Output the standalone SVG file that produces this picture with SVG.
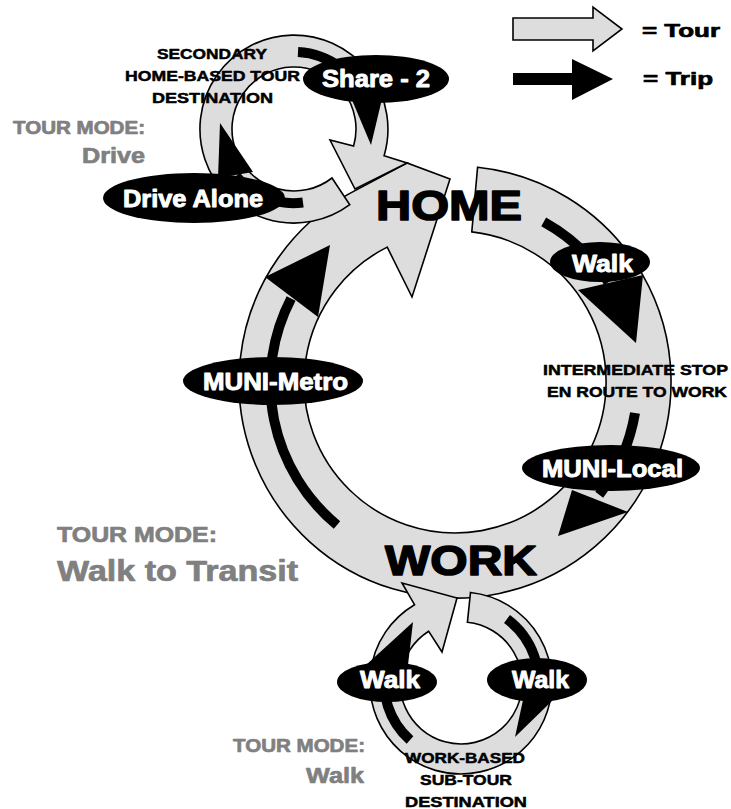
<svg xmlns="http://www.w3.org/2000/svg" width="731" height="809" viewBox="0 0 731 809">
<style>
.tour{fill:#dddddd;stroke:#000;stroke-width:1.6;stroke-linejoin:miter}
.trip{fill:none;stroke:#000;stroke-width:10}
.head{fill:#000}
.oval{fill:#000}
text{font-family:"Liberation Sans",Arial,Helvetica,sans-serif;font-weight:bold;stroke-linejoin:round}
.ol{fill:#fff;stroke:#fff;stroke-width:0.9;font-size:23px}
.sm{fill:#000;stroke:#000;stroke-width:0.5;font-size:15.5px}
.big{fill:#000;stroke:#000;stroke-width:1.6;font-size:43px}
.mode{fill:#808080;stroke:#808080;stroke-width:0.7}
.leg{fill:#000;stroke:#000;stroke-width:0.7;font-size:19px}
</style>
<rect width="731" height="809" fill="#fff"/>

<g id="connectors">
  <g id="tours">
    <path id="tour-main" class="tour" d="M477.6,167.2 A216,216 0 1 1 348,194.4 L407,163 L450,179 L412,297 L387.2,247.1 A151,151 0 1 0 471.8,231.9 Z"/>
    <path id="tour-work-sub" class="tour" d="M470.5,592.5 A91,91 0 1 1 414.5,604.7 L402,583 L457,598 L442,652 L428.7,631.3 A61,61 0 1 0 467.4,622.3 Z"/>
    <path id="tour-home-sec" class="tour" d="M349.8,204.7 A94,94 0 1 1 384.1,155.7 L407,163 L355,189 L330,140 L353.6,146.1 A62,62 0 1 0 332,178 Z"/>
  </g>
  <g id="trips">
    <path class="trip" d="M298,52 A77,77 0 0 1 367.2,105.2"/>
    <polygon class="head" points="352,100 382,99 371,145"/>
    <path class="trip" d="M303,202.5 A74,74 0 0 1 236,176"/>
    <polygon class="head" points="220,123 218,178 253,172"/>
    <path class="trip" d="M543.7,221.9 A183,183 0 0 1 608.5,282.3"/>
    <polygon class="head" points="578,290 643,275 636,343"/>
    <path class="trip" d="M635,413 A183,183 0 0 1 599.2,494.7"/>
    <polygon class="head" points="572,490 628,512 558,536"/>
    <path class="trip" d="M337,525 A184,184 0 0 1 291.1,298.5"/>
    <polygon class="head" points="265,277 330,245 318,317"/>
    <path class="trip" d="M507,619 A78,78 0 0 1 536,701.6"/>
    <polygon class="head" points="523,700 554,699 515,737"/>
    <path class="trip" d="M410,740 A77,77 0 0 1 386,665.7"/>
    <polygon class="head" points="413,622 366,665 408,665"/>
  </g>
</g>

<g id="legend">
  <polygon class="tour" points="513,18 593,18 593,7 622,29 593,51 593,40 513,40"/>
  <text class="leg" x="642" y="37" textLength="78" lengthAdjust="spacingAndGlyphs">= Tour</text>
  <polygon class="head" points="513,73 572,73 572,59 613,79 572,100 572,85 513,85"/>
  <text class="leg" x="643" y="85" textLength="70" lengthAdjust="spacingAndGlyphs">= Trip</text>
</g>

<g id="node-share2">
  <ellipse class="oval" cx="376" cy="79" rx="73" ry="24"/>
  <text class="ol" x="322" y="87" textLength="108" lengthAdjust="spacingAndGlyphs">Share - 2</text>
</g>
<g id="node-drive-alone">
  <ellipse class="oval" cx="194" cy="198" rx="91" ry="25"/>
  <text class="ol" x="123" y="207" font-size="22" textLength="140" lengthAdjust="spacingAndGlyphs">Drive Alone</text>
</g>
<g id="node-walk-1">
  <ellipse class="oval" cx="600" cy="262" rx="50" ry="20"/>
  <text class="ol" x="572" y="272" textLength="61" lengthAdjust="spacingAndGlyphs">Walk</text>
</g>
<g id="node-muni-local">
  <ellipse class="oval" cx="611" cy="468" rx="89" ry="23"/>
  <text class="ol" x="542" y="477" textLength="141" lengthAdjust="spacingAndGlyphs">MUNI-Local</text>
</g>
<g id="node-muni-metro">
  <ellipse class="oval" cx="273" cy="381" rx="90" ry="24"/>
  <text class="ol" x="203" y="390" textLength="145" lengthAdjust="spacingAndGlyphs">MUNI-Metro</text>
</g>
<g id="node-walk-2">
  <ellipse class="oval" cx="387" cy="682" rx="50" ry="20"/>
  <text class="ol" x="360" y="688" textLength="60" lengthAdjust="spacingAndGlyphs">Walk</text>
</g>
<g id="node-walk-3">
  <ellipse class="oval" cx="537" cy="680" rx="50" ry="22"/>
  <text class="ol" x="512" y="688" textLength="57" lengthAdjust="spacingAndGlyphs">Walk</text>
</g>

<g id="node-home">
  <text class="big" x="376" y="220" textLength="146" lengthAdjust="spacingAndGlyphs">HOME</text>
</g>
<g id="node-work">
  <text class="big" x="385" y="575" font-size="44" textLength="152" lengthAdjust="spacingAndGlyphs">WORK</text>
</g>
<g id="node-secondary">
  <text class="sm" x="157" y="59" textLength="110" lengthAdjust="spacingAndGlyphs">SECONDARY</text>
  <text class="sm" x="125" y="81" textLength="175" lengthAdjust="spacingAndGlyphs">HOME-BASED TOUR</text>
  <text class="sm" x="152" y="103" textLength="121" lengthAdjust="spacingAndGlyphs">DESTINATION</text>
</g>
<g id="node-intermediate">
  <text class="sm" x="543" y="375" font-size="16" textLength="185" lengthAdjust="spacingAndGlyphs">INTERMEDIATE STOP</text>
  <text class="sm" x="547" y="397" font-size="16" textLength="180" lengthAdjust="spacingAndGlyphs">EN ROUTE TO WORK</text>
</g>
<g id="node-subtour">
  <text class="sm" x="405" y="763" font-size="16" textLength="120" lengthAdjust="spacingAndGlyphs">WORK-BASED</text>
  <text class="sm" x="420" y="785" font-size="16" textLength="92" lengthAdjust="spacingAndGlyphs">SUB-TOUR</text>
  <text class="sm" x="405" y="807" font-size="16" textLength="122" lengthAdjust="spacingAndGlyphs">DESTINATION</text>
</g>

<g id="mode-drive">
  <text class="mode" x="13" y="134" font-size="18" textLength="132" lengthAdjust="spacingAndGlyphs">TOUR MODE:</text>
  <text class="mode" x="82" y="163" font-size="22" textLength="63" lengthAdjust="spacingAndGlyphs">Drive</text>
</g>
<g id="mode-transit">
  <text class="mode" x="57" y="542" font-size="22" textLength="160" lengthAdjust="spacingAndGlyphs">TOUR MODE:</text>
  <text class="mode" x="57" y="581" font-size="29" textLength="241" lengthAdjust="spacingAndGlyphs">Walk to Transit</text>
</g>
<g id="mode-walk">
  <text class="mode" x="233" y="752" font-size="19" textLength="132" lengthAdjust="spacingAndGlyphs">TOUR MODE:</text>
  <text class="mode" x="306" y="783" font-size="22" textLength="58" lengthAdjust="spacingAndGlyphs">Walk</text>
</g>
</svg>
